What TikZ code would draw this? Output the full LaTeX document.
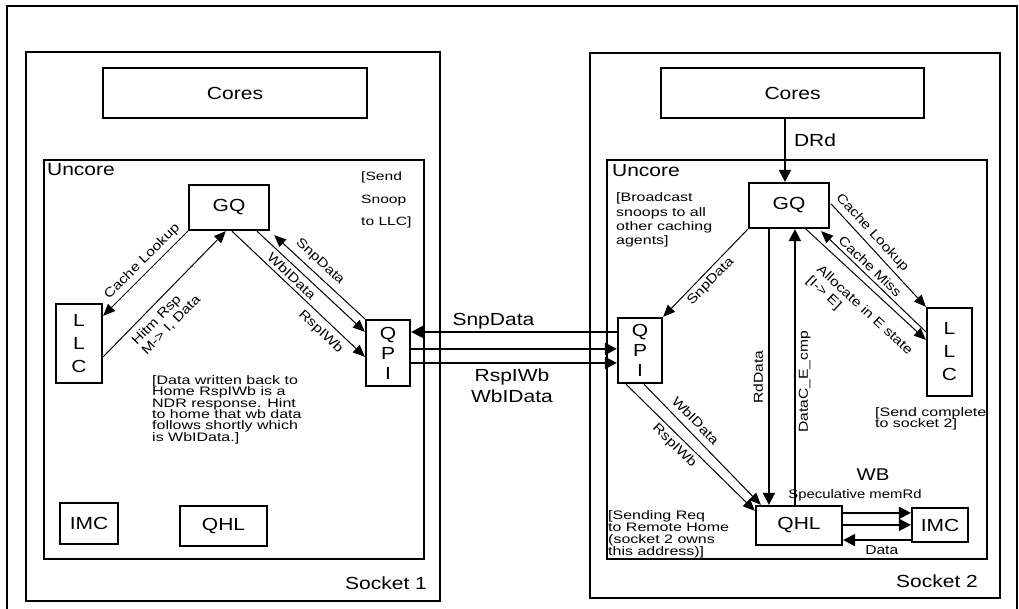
\documentclass[tikz,border=0pt]{standalone}
\usepackage{fontspec}
\setmainfont{Liberation Sans}[FakeStretch=1.2]
\newfontfamily\annfamily{Liberation Sans}[FakeStretch=1.3]
\usetikzlibrary{arrows.meta,calc}
\newcommand\BigLbl{\fontsize{17.5}{21}\selectfont}
\newcommand\BigStack[1]{\fontsize{17.5}{#1}\selectfont\lineskiplimit=-50pt }
\newcommand\SmLbl{\fontsize{13}{15}\selectfont}
\newcommand\SmStack[1]{\fontsize{13}{#1}\selectfont\lineskiplimit=-50pt }
\newcommand\AnnF[2]{\annfamily\fontsize{#1}{#2}\selectfont\lineskiplimit=-50pt }
\begin{document}
\begin{tikzpicture}[x=1pt,y=-1pt,
  frame/.style={draw, line width=2.2pt, inner sep=0pt},
  blk/.style={draw, line width=2.2pt, inner sep=0pt, font=\BigLbl, align=center},
  thinarr/.style={line width=1pt, -{Triangle[length=12pt,width=10pt]}},
  thickarr/.style={line width=2pt, -{Triangle[length=12pt,width=12pt]}},
  lbl/.style={font=\SmLbl, inner sep=1pt},
  lbls/.style={lbl, sloped},
  note/.style={align=left, inner sep=0pt, anchor=north west},
  plain/.style={inner sep=0pt}]
\useasboundingbox (0,0) rectangle (1019,609);
% outer frame (open at the bottom edge of the picture)
\draw[line width=2.2pt] (7,612) -- (7,6) -- (1017,6) -- (1017,612);

% containers
\node[frame, minimum width=414pt, minimum height=549pt] (sock1) at (233,326.5) {};
\node[frame, minimum width=410pt, minimum height=545pt] (sock2) at (795,325.5) {};
\node[frame, minimum width=380pt, minimum height=399pt] (unc1) at (234,359.5) {};
\node[frame, minimum width=380pt, minimum height=399pt] (unc2) at (797,359.5) {};
\node[plain, anchor=east, font=\BigLbl] (s1lbl) at ($(sock1.south east)+(-14,-19)$) {Socket 1};
\node[plain, anchor=east, font=\BigLbl] (s2lbl) at ($(sock2.south east)+(-23,-18)$) {Socket 2};
\node[plain, anchor=west, font=\BigLbl] (u1lbl) at ($(unc1.north west)+(4,11)$) {Uncore};
\node[plain, anchor=west, font=\BigLbl] (u2lbl) at ($(unc2.north west)+(6,12)$) {Uncore};

% blocks
\node[blk, minimum width=264pt, minimum height=50pt] (cores1) at (235,93) {Cores};
\node[blk, minimum width=263pt, minimum height=50pt] (cores2) at (792.5,93) {Cores};
\node[blk, minimum width=80pt, minimum height=45pt] (gq1) at (229,207.5) {GQ};
\node[blk, minimum width=80pt, minimum height=45pt] (gq2) at (789,205.5) {GQ};
\node[blk, minimum width=46pt, minimum height=79pt, font=\BigStack{23}] (llc1) at (79,343.5) {L\\L\\C};
\node[blk, minimum width=45pt, minimum height=88pt, font=\BigStack{23}] (llc2) at (949.5,352) {L\\L\\C};
\node[blk, minimum width=44pt, minimum height=66pt, font=\BigStack{20}] (qpi1) at (388,353) {Q\\P\\I};
\node[blk, minimum width=44pt, minimum height=65pt, font=\BigStack{20}] (qpi2) at (640,350.5) {Q\\P\\I};
\node[blk, minimum width=58pt, minimum height=41pt] (imc1) at (89,523.5) {IMC};
\node[blk, minimum width=87pt, minimum height=40pt] (qhl1) at (223.5,526) {QHL};
\node[blk, minimum width=86pt, minimum height=39pt] (qhl2) at (799,525.5) {QHL};
\node[blk, minimum width=56pt, minimum height=34pt] (imc2) at (940,525) {IMC};

% notes
\node[note, font={\AnnF{12}{22.3}}] (snoopnote) at (361,172) {[Send\\Snoop\\to LLC]};
\node[note, font={\AnnF{12.3}{14.4}}] (bcnote) at (616,192.5) {[Broadcast\\snoops to all\\other caching\\agents]};
\node[note, font={\AnnF{12.3}{11.3}}] (wbnote) at (152,375.5) {[Data written back to\\Home RspIWb is a\\NDR response. Hint\\to home that wb data\\follows shortly which\\is WbIData.]};
\node[note, font={\AnnF{12.3}{11.8}}] (reqnote) at (608,510.5) {[Sending Req\\to Remote Home\\(socket 2 owns\\this address)]};
\node[note, font={\AnnF{12.3}{11.3}}] (cmpnote) at (875,407.5) {[Send complete\\to socket 2]};
\node[plain, font=\fontsize{17}{20}\selectfont] (wb) at (873,475) {WB};
\node[plain, font=\fontsize{12.4}{15}\selectfont] (spec) at (855,495) {Speculative memRd};

% socket 1 connectors
\draw[thinarr] (gq1.south west) -- node[lbls, above, outer sep=3.5pt, pos=0.45] (tCL1) {Cache Lookup} ($(llc1.north east)+(0,13)$);
\draw[thinarr] ($(llc1.north east)+(0,54)$) -- node[lbls, below, outer sep=6pt, pos=0.4, align=left, font=\SmStack{14}] (tHR) {Hitm Rsp\\M-> I, Data} ($(gq1.south west)+(38,0)$);
\draw[thinarr] ($(gq1.south west)+(69,0)$) -- node[lbls, below, outer sep=3.5pt, pos=0.38] (tWB1) {WbIData} ($(qpi1.north west)+(0,13)$);
\draw[thinarr] ($(gq1.south west)+(44,0)$) -- node[lbls, below, outer sep=5pt, pos=0.73] (tRW1) {RspIWb} ($(qpi1.north west)+(0,38)$);
\draw[thinarr] (qpi1.north west) -- node[lbls, above, outer sep=4.5pt, pos=0.58] (tSD1) {SnpData} ($(gq1.south east)+(4,4)$);

% QPI link
\draw[thickarr] ($(qpi2.north west)+(0,15)$) -- node[plain, above, font=\BigLbl, outer sep=3pt, pos=0.6] (tSDm) {SnpData} ($(qpi1.north east)+(0,13)$);
\draw[thickarr] ($(qpi1.north east)+(0,30)$) -- ($(qpi2.north west)+(0,32)$);
\draw[thickarr] ($(qpi1.north east)+(0,44)$) -- node[plain, below, font=\BigStack{21}, align=center, outer sep=5.5pt, pos=0.49] (tRWm) {RspIWb\\WbIData} ($(qpi2.north west)+(0,46)$);

% socket 2 connectors
\draw[thickarr] ($(cores2.south)+(-7.5,0)$) -- node[plain, right, font=\BigLbl, outer sep=9pt, pos=0.34] (tDRd) {DRd} ($(gq2.north)+(-4,0)$);
\draw[thinarr] (gq2.south west) -- node[lbls, below, outer sep=3pt, pos=0.52] (tSD2) {SnpData} (qpi2.north east);
\draw[thinarr] ($(gq2.north east)+(1,22)$) -- node[lbls, above, outer sep=3.5pt, pos=0.35] (tCL2) {Cache Lookup} (llc2.north west);
\draw[thinarr] ($(llc2.north west)+(0,25)$) -- node[lbls, above, outer sep=3pt, pos=0.59] (tCM) {Cache Miss} ($(gq2.south east)+(-9,2)$);
\draw[thinarr] ($(gq2.south west)+(58,0)$) -- node[lbls, below, outer sep=13pt, pos=0.6, align=left, font=\SmStack{15}] (tAL) {Allocate in E state\\ {[}I-> E]} ($(llc2.north west)+(0,33)$);
\draw[thinarr] ($(qpi2.south west)+(27,0)$) -- node[lbls, above, outer sep=6pt, pos=0.37] (tWB2) {WbIData} ($(qhl2.north west)+(6,0)$);
\draw[thinarr] ($(qpi2.south west)+(9,0)$) -- node[lbls, below, outer sep=3pt, pos=0.43] (tRW2) {RspIWb} ($(qhl2.north west)+(0,6)$);
\draw[thickarr] ($(gq2.south west)+(21,0)$) -- node[lbl, pos=0.536, rotate=90, anchor=south, outer sep=5pt] (tRD) {RdData} ($(qhl2.north west)+(14,0)$);
\draw[thickarr] ($(qhl2.north west)+(40,0)$) -- node[lbl, pos=0.446, rotate=90, anchor=north, outer sep=3pt] (tDC) {DataC\_E\_cmp} ($(gq2.south west)+(47,0)$);
\draw[thickarr] ($(qhl2.north east)+(0,8)$) -- ($(imc2.north west)+(0,6)$);
\draw[thickarr] ($(qhl2.north east)+(0,20)$) -- ($(imc2.north west)+(0,18)$);
\draw[thickarr] ($(imc2.south west)+(0,-3)$) -- node[lbl, below, outer sep=4pt, pos=0.43] (tData) {Data} ($(qhl2.south east)+(0,-6)$);
\end{tikzpicture}
\end{document}
